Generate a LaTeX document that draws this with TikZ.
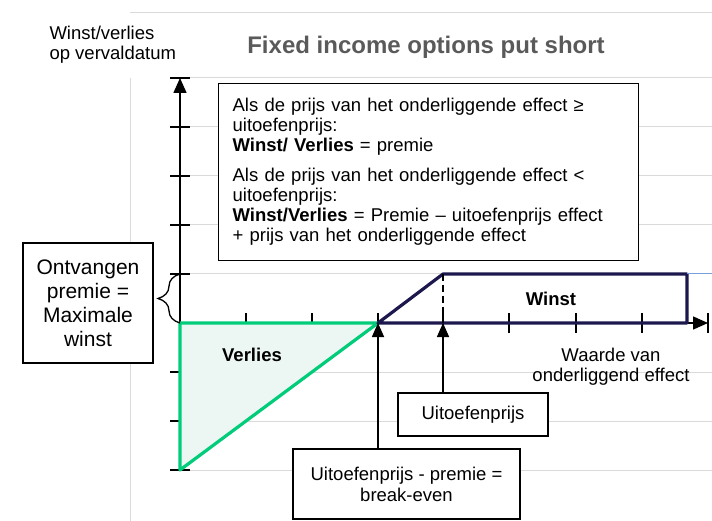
\documentclass[tikz,border=0pt]{standalone}
\usepackage{fontspec}
\setmainfont{Liberation Sans}
\usepackage{tikz}
\usetikzlibrary{arrows.meta,decorations.pathreplacing}

\definecolor{lossgreen}{RGB}{0,204,122}
\definecolor{lossfill}{RGB}{236,247,243}
\definecolor{gainnavy}{RGB}{28,24,78}
\definecolor{gridgray}{RGB}{218,218,218}
\definecolor{titlegray}{RGB}{90,90,90}
\definecolor{edgeblue}{RGB}{120,160,220}

\begin{document}
\begin{tikzpicture}[x=1pt,y=-1pt,
		every node/.style={font=\fontsize{18.5}{20}\selectfont},
		gridline/.style={draw=gridgray,line width=1pt},
		axisline/.style={line width=1.6pt,-{Triangle[length=15pt,width=13pt]}},
		tickline/.style={line width=1.6pt},
		box/.style={draw,line width=1.3pt,fill=white,align=center},
		pointer/.style={line width=1.6pt,-{Triangle[length=14pt,width=12pt]}}]
	\useasboundingbox (0,0) rectangle (712,521);
	% raster
	\draw[gridline] (130,13) -- (712,13);
	\draw[gridline] (130,78) -- (130,521);
	\foreach \y in {78,127,176,225,274,372,421,470}
		\draw[gridline] (180,\y) -- (712,\y);
	% assen
	\draw[axisline] (180,470) -- (180,78);
	\draw[axisline] (180,323) -- (708,323);
	\foreach \y in {78,127,176,225,274,372,421,470}
		\draw[tickline] (170,\y) -- (190,\y);
	\foreach \x in {246,312,378,443,509,576,642,708}
		\draw[tickline] (\x,313) -- (\x,333);
	\coordinate (be) at (378,323);
	\coordinate (sp) at (443,323);
	\coordinate (cap) at (443,274);
	% verlies en winst
	\filldraw[draw=lossgreen,fill=lossfill,line width=3.2pt,line join=round]
		(180,323) -- (be) -- (180,470) -- cycle;
	\draw[gainnavy,line width=3.2pt,line join=round]
		(be) -- (cap) -- (687,274) -- (687,323) -- cycle;
	\draw[edgeblue,line width=1pt] (687,274) -- (712,274);
	\draw[line width=2.2pt,dash pattern=on 7pt off 4pt] (cap) -- (sp);
	\draw[line width=1.3pt,decorate,decoration={brace,amplitude=22pt}]
		(180,323) -- (180,274);
	% teksten
	\node[align=left,anchor=west] (ylabel) at (46,45) {Winst/verlies\\op vervaldatum};
	\node[font=\fontsize{24}{26}\selectfont\bfseries,text=titlegray] (title) at (426,47)
		{Fixed income options put short};
	\node[font=\fontsize{18.5}{20}\selectfont\bfseries] (gain) at (551,299) {Winst};
	\node[font=\fontsize{18.5}{20}\selectfont\bfseries] (loss) at (252,355) {Verlies};
	\node[align=center] (xlabel) at (611,367) {Waarde van\\onderliggend effect};
	\node[box,anchor=north west,align=left,text width=392pt,inner xsep=14pt,
		minimum width=420pt,minimum height=177pt] (rules) at (218,83)
		{Als de prijs van het onderliggende effect ≥\\
		uitoefenprijs:\\
		\textbf{Winst/ Verlies} = premie\\[10pt]
		Als de prijs van het onderliggende effect <\\
		uitoefenprijs:\\
		\textbf{Winst/Verlies} = Premie – uitoefenprijs effect\\
		+ prijs van het onderliggende effect};
	\node[box,minimum width=130pt,minimum height=120pt,
		font=\fontsize{21}{24}\selectfont] (premium) at (88,303)
		{Ontvangen\\premie =\\Maximale\\winst};
	\node[box,minimum width=150pt,minimum height=43pt] (strike) at (473,414.5) {Uitoefenprijs};
	\node[box,minimum width=227pt,minimum height=70pt,
		font=\fontsize{18.5}{21}\selectfont] (breakeven) at (406.5,484)
		{Uitoefenprijs - premie =\\break-even};
	\draw[pointer] (breakeven.north -| be) -- (be);
	\draw[pointer] (strike.north -| sp) -- (sp);
\end{tikzpicture}
\end{document}
